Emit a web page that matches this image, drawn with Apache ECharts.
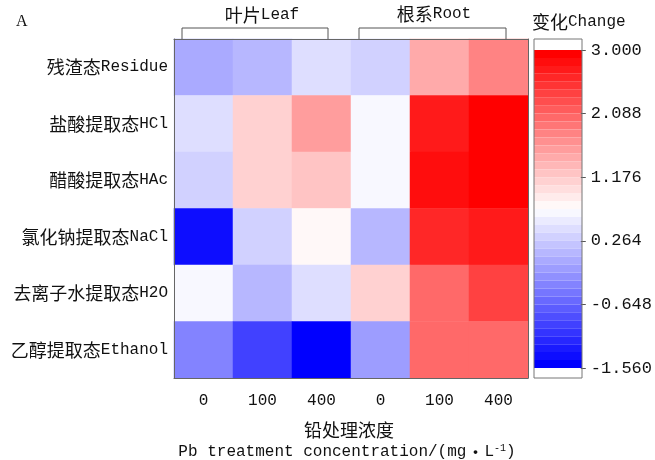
<!DOCTYPE html>
<html><head><meta charset="utf-8">
<script src="https://cdn.jsdelivr.net/npm/echarts/dist/echarts.min.js"></script>
<style>html,body{margin:0;padding:0;background:#fff}#c{width:655px;height:460px}</style>
</head><body><div id="c"></div>
<script>
const columns = ['0', '100', '400', '0', '100', '400'];
const groupLeaf = ['叶片', 'Leaf'];
const groupRoot = ['根系', 'Root'];
const rowsCn = ['残渣态', '盐酸提取态', '醋酸提取态', '氯化钠提取态', '去离子水提取态', '乙醇提取态'];
const rowsEn = ['Residue', 'HCl', 'HAc', 'NaCl', 'H2O', 'Ethanol'];
const residue = [-0.05, 0.15, 0.45, 0.33, 1.47, 1.75];
const hcl     = [0.47, 1.13, 1.61, 0.63, 2.77, 3.00];
const hac     = [0.36, 1.12, 1.29, 0.63, 2.80, 2.98];
const nacl    = [-1.38, 0.33, 0.81, 0.15, 2.64, 2.77];
const h2o     = [0.63, 0.14, 0.45, 1.12, 2.02, 2.38];
const ethanol = [-0.31, -0.94, -1.56, -0.17, 2.00, 2.00];
const scaleTicks = ['-1.560', '-0.648', '0.264', '1.176', '2.088', '3.000'];
const scaleMin = -1.56, scaleMax = 3.0;

const rowsData = [residue, hcl, hac, nacl, h2o, ethanol];
const rowLabels = rowsCn.map((c, i) => c + rowsEn[i]);
const data = [];
rowsData.forEach((row, r) => row.forEach((v, c) => data.push([c, r, v])));

const CN = 'Noto Sans CJK SC';
const EN = 'Liberation Mono';
const TXT = '#111';
const richBase = {
  cn: { fontFamily: CN, fontSize: 18, fill: TXT, color: TXT },
  en: { fontFamily: EN, fontSize: 16, fill: TXT, color: TXT },
  sup: { fontFamily: EN, fontSize: 10, fill: TXT, color: TXT, verticalAlign: 'top', padding: [0, 0, 8, 0] }
};

const chart = echarts.init(document.getElementById('c'), null, { renderer: 'canvas' });
chart.setOption({
  animation: false,
  backgroundColor: '#fff',
  grid: [
    { left: 174, top: 39, width: 354, height: 339 },
    { left: 534, top: 50, width: 48, height: 318 }
  ],
  xAxis: [
    { type: 'category', gridIndex: 0, data: columns, position: 'bottom', z: 10,
      axisLine: { lineStyle: { color: '#666', width: 1 } },
      axisTick: { inside: true, length: 6, alignWithLabel: true, lineStyle: { color: '#444' } },
      axisLabel: { margin: 15, fontFamily: EN, fontSize: 16, color: TXT },
      splitLine: { show: false } },
    { type: 'category', gridIndex: 0, data: columns, position: 'top', z: 10,
      axisLine: { lineStyle: { color: '#666', width: 1 } },
      axisTick: { show: false }, axisLabel: { show: false } },
    { type: 'category', gridIndex: 1, data: ['c'], show: false }
  ],
  yAxis: [
    { type: 'category', gridIndex: 0, data: rowLabels, inverse: true, position: 'left', z: 10,
      axisLine: { lineStyle: { color: '#666', width: 1 } },
      axisTick: { inside: true, length: 6, alignWithLabel: true, lineStyle: { color: '#444' } },
      axisLabel: { margin: 6, formatter: (v, i) => '{cn|' + rowsCn[i] + '}{en|' + rowsEn[i] + '}',
        rich: richBase } },
    { type: 'category', gridIndex: 0, data: rowLabels, inverse: true, position: 'right', z: 10,
      axisLine: { lineStyle: { color: '#666', width: 1 } },
      axisTick: { show: false }, axisLabel: { show: false } },
    { type: 'category', gridIndex: 1, data: scaleTicks, boundaryGap: false, position: 'right', z: 10,
      axisLine: { show: false },
      axisTick: { show: true, length: 5, lineStyle: { color: '#555' } },
      axisLabel: { margin: 10, fontFamily: EN, fontSize: 17, color: TXT },
      splitLine: { show: false } }
  ],
  visualMap: {
    type: 'piecewise', seriesIndex: 0, min: scaleMin, max: scaleMax, splitNumber: 40,
    orient: 'vertical', left: 534, top: 50, padding: 0,
    itemWidth: 48, itemHeight: 318 / 40, itemGap: 0, itemSymbol: 'rect',
    showLabel: false, selectedMode: false, hoverLink: false,
    inRange: { color: ['#0000ff', '#ffffff', '#ff0000'] }
  },
  series: [{
    type: 'heatmap', xAxisIndex: 0, yAxisIndex: 0, data: data,
    itemStyle: { borderWidth: 0 },
    emphasis: { disabled: true }, label: { show: false }
  }],
  graphic: [
    { type: 'text', left: 16, top: 14, style: { text: 'A', font: '16px "Liberation Serif"', fill: TXT } },
    { type: 'polyline', shape: { points: [[182, 39], [182, 28], [328, 28], [328, 39]] }, style: { stroke: '#555', fill: null, lineWidth: 1 }, z: 20 },
    { type: 'polyline', shape: { points: [[359, 39], [359, 28], [506, 28], [506, 39]] }, style: { stroke: '#555', fill: null, lineWidth: 1 }, z: 20 },
    { type: 'text', x: 262, y: 15, z: 20, style: { text: '{cn|' + groupLeaf[0] + '}{en|' + groupLeaf[1] + '}', rich: richBase, align: 'center', verticalAlign: 'middle' } },
    { type: 'text', x: 434, y: 14, z: 20, style: { text: '{cn|' + groupRoot[0] + '}{en|' + groupRoot[1] + '}', rich: richBase, align: 'center', verticalAlign: 'middle' } },
    { type: 'text', x: 532, y: 22, z: 20, style: { text: '{cn|变化}{en|Change}', rich: richBase, align: 'left', verticalAlign: 'middle' } },
    { type: 'rect', shape: { x: 534, y: 39, width: 48, height: 339 }, style: { stroke: '#777', fill: null, lineWidth: 1 }, z: 20 },
    { type: 'text', x: 349, y: 430, z: 20, style: { text: '{cn|铅处理浓度}', rich: richBase, align: 'center', verticalAlign: 'middle' } },
    { type: 'text', x: 347, y: 452, z: 20, style: { text: '{en|Pb treatment concentration/(mg}{cn|・}{en|L}{sup|-1}{en|)}', rich: richBase, align: 'center', verticalAlign: 'middle' } }
  ]
});
</script></body></html>
